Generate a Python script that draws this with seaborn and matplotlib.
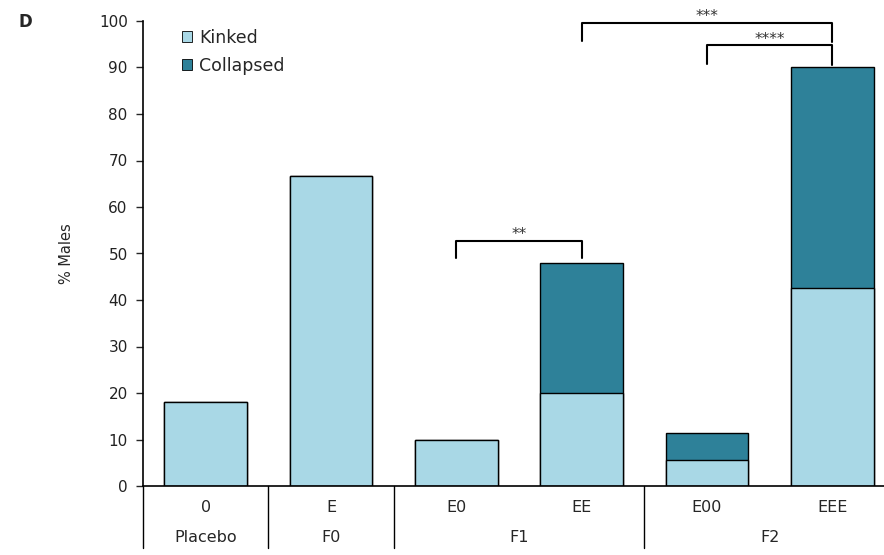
import numpy as np
import pandas as pd
import seaborn as sns

import matplotlib
matplotlib.use('Agg')
import matplotlib.pyplot as plt
from matplotlib.patches import Patch
import matplotlib.transforms as mtransforms

# ---------- data ----------
treatments = ["0", "E", "E0", "EE", "E00", "EEE"]
generations = ["Placebo", "F0", "F1", "F2"]
gen_span = [(0, 0), (1, 1), (2, 3), (4, 5)]   # first / last bar index of each generation
kinked = [18, 66.7, 10, 20, 5.5, 42.5]
collapsed = [0, 0, 0, 28, 5.8, 47.5]

# significance brackets: (left bar, right bar, top y, left drop, right drop, label)
brackets = [(2, 3, 52.7, 49, 49, "**"),
            (3, 5, 99.6, 95.7, 95.5, "***"),
            (4, 5, 94.8, 90.8, 90.6, "****")]

light = "#a9d8e6"
dark = "#2e8199"

data = pd.DataFrame({"treatment": treatments, "kinked": kinked, "collapsed": collapsed})
data["total"] = data["kinked"] + data["collapsed"]

# ---------- plot ----------
sns.set_style("white")
plt.rcParams['font.family'] = ['DejaVu Sans']

fig = plt.figure(figsize=(8.84, 5.55), dpi=100)
ax = fig.add_axes([143 / 884, 69 / 555, 752 / 884, 465 / 555])

sns.barplot(data=data, x="treatment", y="total", order=treatments, color=dark,
            width=0.66, edgecolor="black", linewidth=1, saturation=1, ax=ax)
sns.barplot(data=data, x="treatment", y="kinked", order=treatments, color=light,
            width=0.66, edgecolor="black", linewidth=1, saturation=1, ax=ax)

ax.set_xlim(-0.5, 5.5)
ax.set_ylim(0, 100)
ax.set_yticks(range(0, 101, 10))
ax.tick_params(axis="y", direction="out", length=5, width=1, labelsize=11, pad=6,
               left=True, labelcolor="#222222")
ax.set_xticks([])
ax.set_xlabel("")
ax.set_ylabel("% Males", fontsize=10.5)
ax.yaxis.set_label_coords(-0.092, 0.5)
sns.despine(ax=ax)
for s in ["left", "bottom"]:
    ax.spines[s].set_linewidth(1.2)
    ax.spines[s].set_color("black")

# two-row category labels beneath the axis
trans = mtransforms.blended_transform_factory(ax.transData, ax.transAxes)
for i, t in enumerate(treatments):
    ax.text(i, -0.047, t, transform=trans, ha="center", va="center", fontsize=11.5)
for g, (a, b) in zip(generations, gen_span):
    ax.text((a + b) / 2, -0.110, g, transform=trans, ha="center", va="center", fontsize=11.5)
for a, b in gen_span:
    ax.plot([a - 0.5, a - 0.5], [0, -0.133], transform=trans, color="black",
            lw=1, clip_on=False)

# significance brackets
for a, b, top, dl, dr, lab in brackets:
    ax.plot([a, a, b, b], [dl, top, top, dr], color="black", lw=1.5, clip_on=False)
    ax.text((a + b) / 2, top - 0.3, lab, ha="center", va="bottom", fontsize=11,
            color="#333333")

# legend
handles = [Patch(facecolor=light, edgecolor="black", linewidth=0.6, label="Kinked"),
           Patch(facecolor=dark, edgecolor="black", linewidth=0.6, label="Collapsed")]
ax.legend(handles=handles, loc="upper left", bbox_to_anchor=(182 / 884, 1 - 29 / 555),
          bbox_transform=fig.transFigure, frameon=False, borderpad=0, borderaxespad=0,
          fontsize=12.5, handlelength=0.6, handleheight=0.6, handletextpad=0.4,
          labelspacing=0.55)

fig.text(18 / 884, 1 - 22 / 555, "D", fontsize=12, fontweight="bold", va="center")

fig.savefig("out.png", dpi=100)
